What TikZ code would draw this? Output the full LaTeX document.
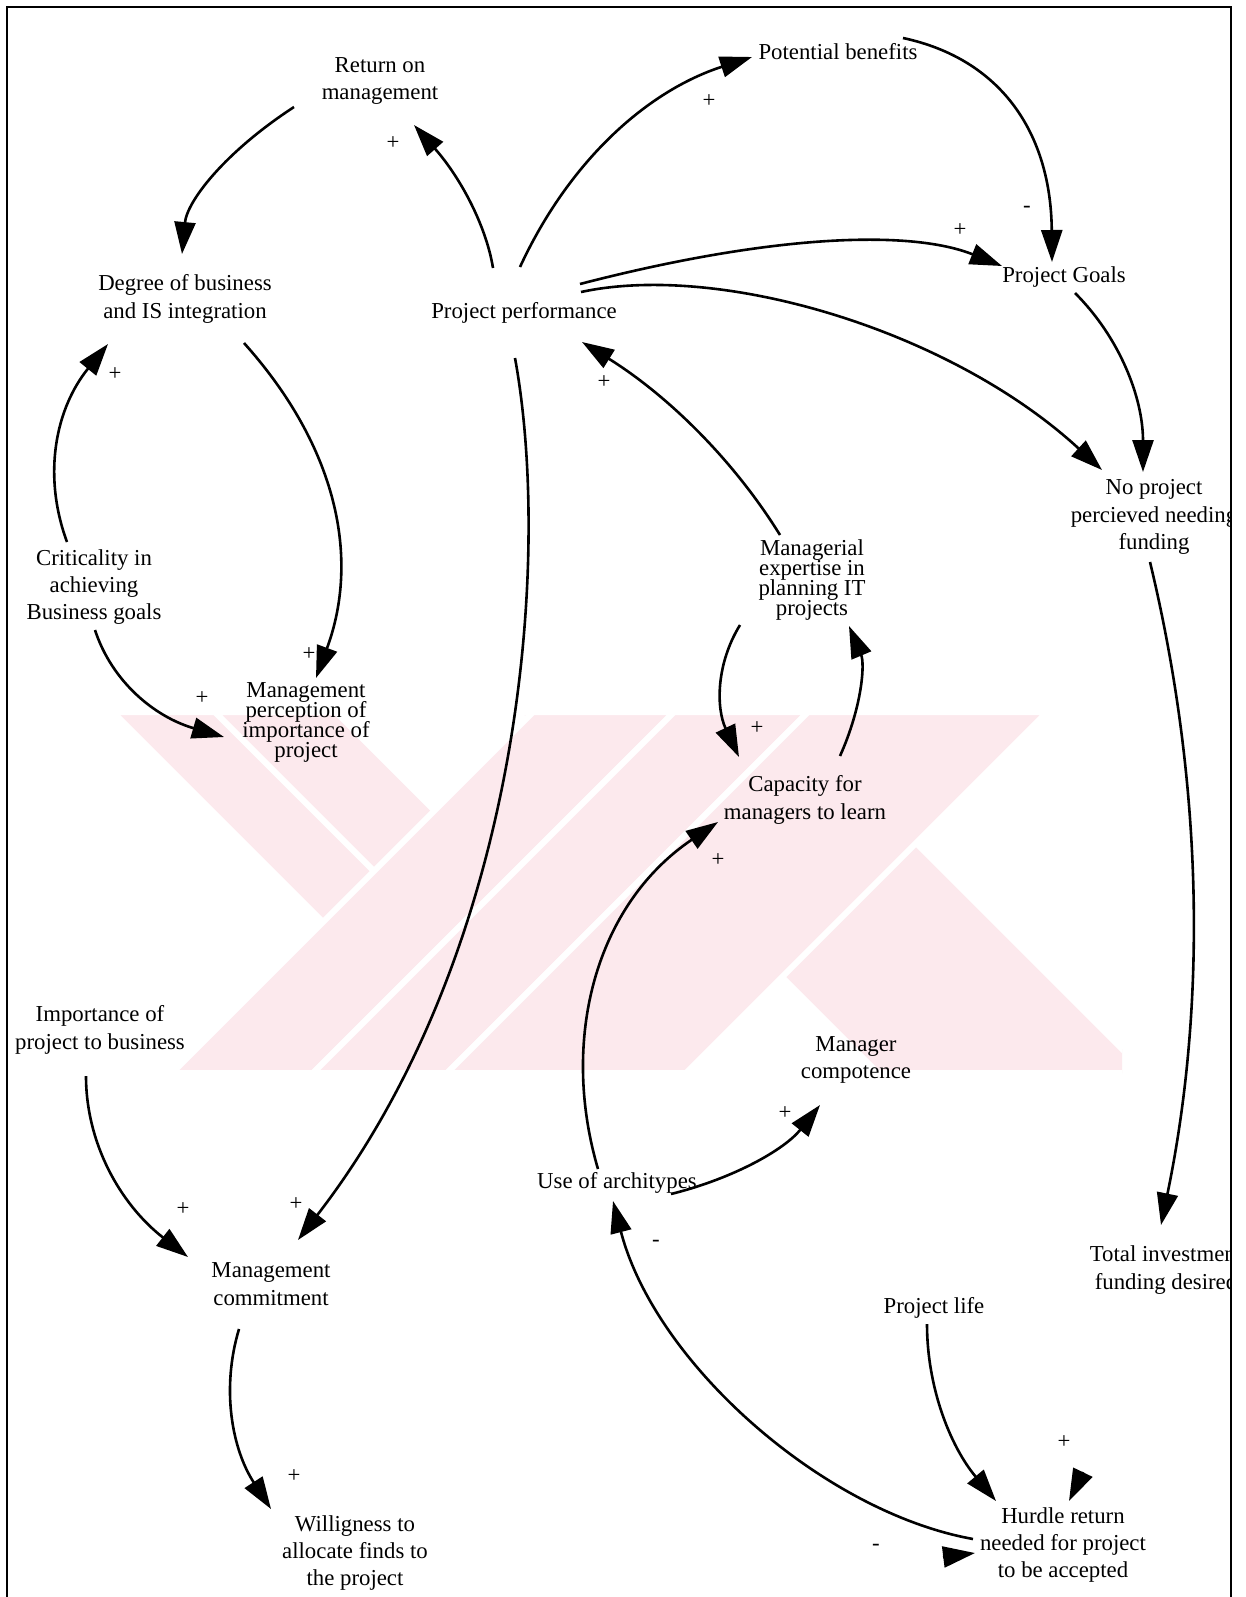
\documentclass[tikz,border=0pt]{standalone}
\usepackage{fontspec}
\setmainfont{Liberation Serif}
\usetikzlibrary{arrows.meta,calc}
\definecolor{wmpink}{RGB}{252,233,237}
\newcommand{\tightlines}{\fontsize{11.4}{10}\selectfont\lineskiplimit=-100pt\relax}
\begin{document}
\begin{tikzpicture}[x=0.5pt,y=-0.5pt,
  var/.style={align=center,inner sep=0pt,
    font=\fontsize{11.4}{13.7}\selectfont},
  tight/.style={align=center,inner sep=0pt,font=\tightlines},
  pol/.style={inner sep=0pt,font=\fontsize{11.4}{13.7}\selectfont},
  link/.style={line width=1.3pt,-{Triangle[length=16pt,width=10.5pt]}},
  band/.style={fill=wmpink,draw=white,line width=3pt},
]
\useasboundingbox (0,0) rectangle (1246,1597);
\fill[white] (0,0) rectangle (1246,1597);

% pale background emblem: slanted bands, each 45 degrees
\begin{scope}
  \clip (113,712) rectangle (1122,1073);
  % falling bands
  \draw[band] (113,712) -- (215,712) -- (576,1073) -- (474,1073) -- cycle;
  \draw[band] (215,712) -- (336,712) -- (697,1073) -- (576,1073) -- cycle;
  \draw[band] (517,712) -- (785,712) -- (1146,1073) -- (878,1073) -- cycle;
  % rising bands
  \draw[band] (172,1073) -- (313,1073) -- (674,712) -- (533,712) -- cycle;
  \draw[band] (313,1073) -- (447,1073) -- (808,712) -- (674,712) -- cycle;
  \draw[band] (447,1073) -- (686,1073) -- (1047,712) -- (808,712) -- cycle;
\end{scope}

% frame
\draw[line width=1pt] (7,1620) -- (7,7) -- (1231,7) -- (1231,1620);

% variables
\begin{scope}
  \clip (7,7) rectangle (1231,1620);
  \node[var] (ret)  at (380,81)   {Return on\\management};
  \node[var] (pb)   at (838,52)   {Potential benefits};
  \node[var] (dbi)  at (185,299)  {Degree of business\\and IS integration};
  \node[var] (pp)   at (524,313)  {Project performance};
  \node[var] (pg)   at (1064,277) {Project Goals};
  \node[var] (npf)  at (1154,517) {No project\\percieved needing\\funding};
  \node[tight] (mex) at (812,580) {Managerial\\expertise in\\planning IT\\projects};
  \node[var] (crit) at (94,587)   {Criticality in\\achieving\\Business goals};
  \node[tight] (mpi) at (306,722) {Management\\perception of\\importance of\\project};
  \node[var] (cap)  at (805,800)  {Capacity for\\managers to learn};
  \node[var] (imp)  at (100,1030) {Importance of\\project to business};
  \node[var] (mc)   at (856,1060) {Manager\\compotence};
  \node[var] (ua)   at (617,1183) {Use of architypes};
  \node[var] (mcom) at (271,1284) {Management\\commitment};
  \node[var] (tif)  at (1166,1270) {Total investment\\funding desired};
  \node[var] (pl)   at (934,1308) {Project life};
  \node[var] (wil)  at (355,1553) {Willigness to\\allocate finds to\\the project};
  \node[var] (hr)   at (1063,1545) {Hurdle return\\needed for project\\to be accepted};
\end{scope}

% causal links
\draw[link] ($(pp)+(-31,-45)$) .. controls (486,225) and (460,177) .. ($(ret)+(34,44)$);
\draw[link] ($(pp)+(-4,-46)$) .. controls (569,161) and (647,91) .. ($(pb)+(-86,5)$);
\draw[link] ($(pb)+(65,-14)$) .. controls (1001,59) and (1051,133) .. ($(pg)+(-12,-15)$);
\draw[link] ($(pp)+(56,-29)$) .. controls (769,235) and (909,229) .. ($(pg)+(-62,-11)$);
\draw[link] ($(pp)+(57,-21)$) .. controls (720,262) and (950,330) .. ($(npf)+(-52,-47)$);
\draw[link] ($(pg)+(11,16)$) .. controls (1120,338) and (1143,398) .. ($(npf)+(-11,-45)$);
\draw[link] ($(npf)+(-4,45)$) .. controls (1203,782) and (1207,1003) .. ($(tif)+(-5,-45)$);
\draw[link] ($(ret)+(-86,26)$) .. controls (225,152) and (187,201) .. ($(dbi)+(-3,-45)$);
\draw[link] ($(crit)+(-27,-45)$) .. controls (42,474) and (56,408) .. ($(dbi)+(-77,45)$);
\draw[link] ($(dbi)+(59,44)$) .. controls (338,448) and (360,559) .. ($(mpi)+(10,-44)$);
\draw[link] ($(crit)+(1,43)$) .. controls (112,682) and (155,717) .. ($(mpi)+(-82,15)$);
\draw[link] ($(pp)+(-9,45)$) .. controls (552,560) and (522,950) .. ($(mcom)+(27,-44)$);
\draw[link] ($(mex)+(-32,-45)$) .. controls (733,459) and (667,395) .. ($(pp)+(58,29)$);
\draw[link] ($(mex)+(-72,45)$) .. controls (716,664) and (716,708) .. ($(cap)+(-66,-43)$);
\draw[link] ($(cap)+(35,-44)$) .. controls (862,707) and (865,664) .. ($(mex)+(37,46)$);
\draw[link] ($(ua)+(-19,-14)$) .. controls (560,1040) and (595,905) .. ($(cap)+(-87,22)$);
\draw[link] ($(ua)+(54,11)$) .. controls (735,1178) and (785,1149) .. ($(mc)+(-36,45)$);
\draw[link] ($(imp)+(-14,46)$) .. controls (86,1143) and (120,1204) .. ($(mcom)+(-83,-27)$);
\draw[link] ($(mcom)+(-32,45)$) .. controls (221,1389) and (232,1449) .. ($(wil)+(-84,-44)$);
\draw[link] ($(pl)+(-7,16)$) .. controls (927,1387) and (950,1446) .. ($(hr)+(-67,-44)$);
\draw[link] ($(hr)+(-90,-6)$) .. controls (823,1512) and (655,1363) .. ($(ua)+(-4,18)$);

% arrowheads arriving at the hurdle rate without a drawn line
\coordinate (hrtop) at (1083,1472);
\coordinate (hrleft) at (943,1557);
\draw[link] (hrtop) -- ($(hr)+(6,-44)$);
\draw[link] (hrleft) -- ($(hr)+(-88,8)$);

% polarities
\node[pol] (sA) at (393,143)  {+};
\node[pol] (sB) at (709,101)  {+};
\node[pol] (sC) at (1027,209) {-};
\node[pol] (sD) at (960,230)  {+};
\node[pol] (sI) at (115,374)  {+};
\node[pol] (sJ) at (309,654)  {+};
\node[pol] (sK) at (202,698)  {+};
\node[pol] (sL) at (296,1204) {+};
\node[pol] (sM) at (604,382)  {+};
\node[pol] (sN) at (757,728)  {+};
\node[pol] (sP) at (718,860)  {+};
\node[pol] (sQ) at (785,1113) {+};
\node[pol] (sR) at (183,1209) {+};
\node[pol] (sS) at (294,1476) {+};
\node[pol] (sV) at (656,1243) {-};
\node[pol] (sH) at (1064,1442) {+};
\node[pol] (sW) at (876,1547) {-};
\end{tikzpicture}
\end{document}
